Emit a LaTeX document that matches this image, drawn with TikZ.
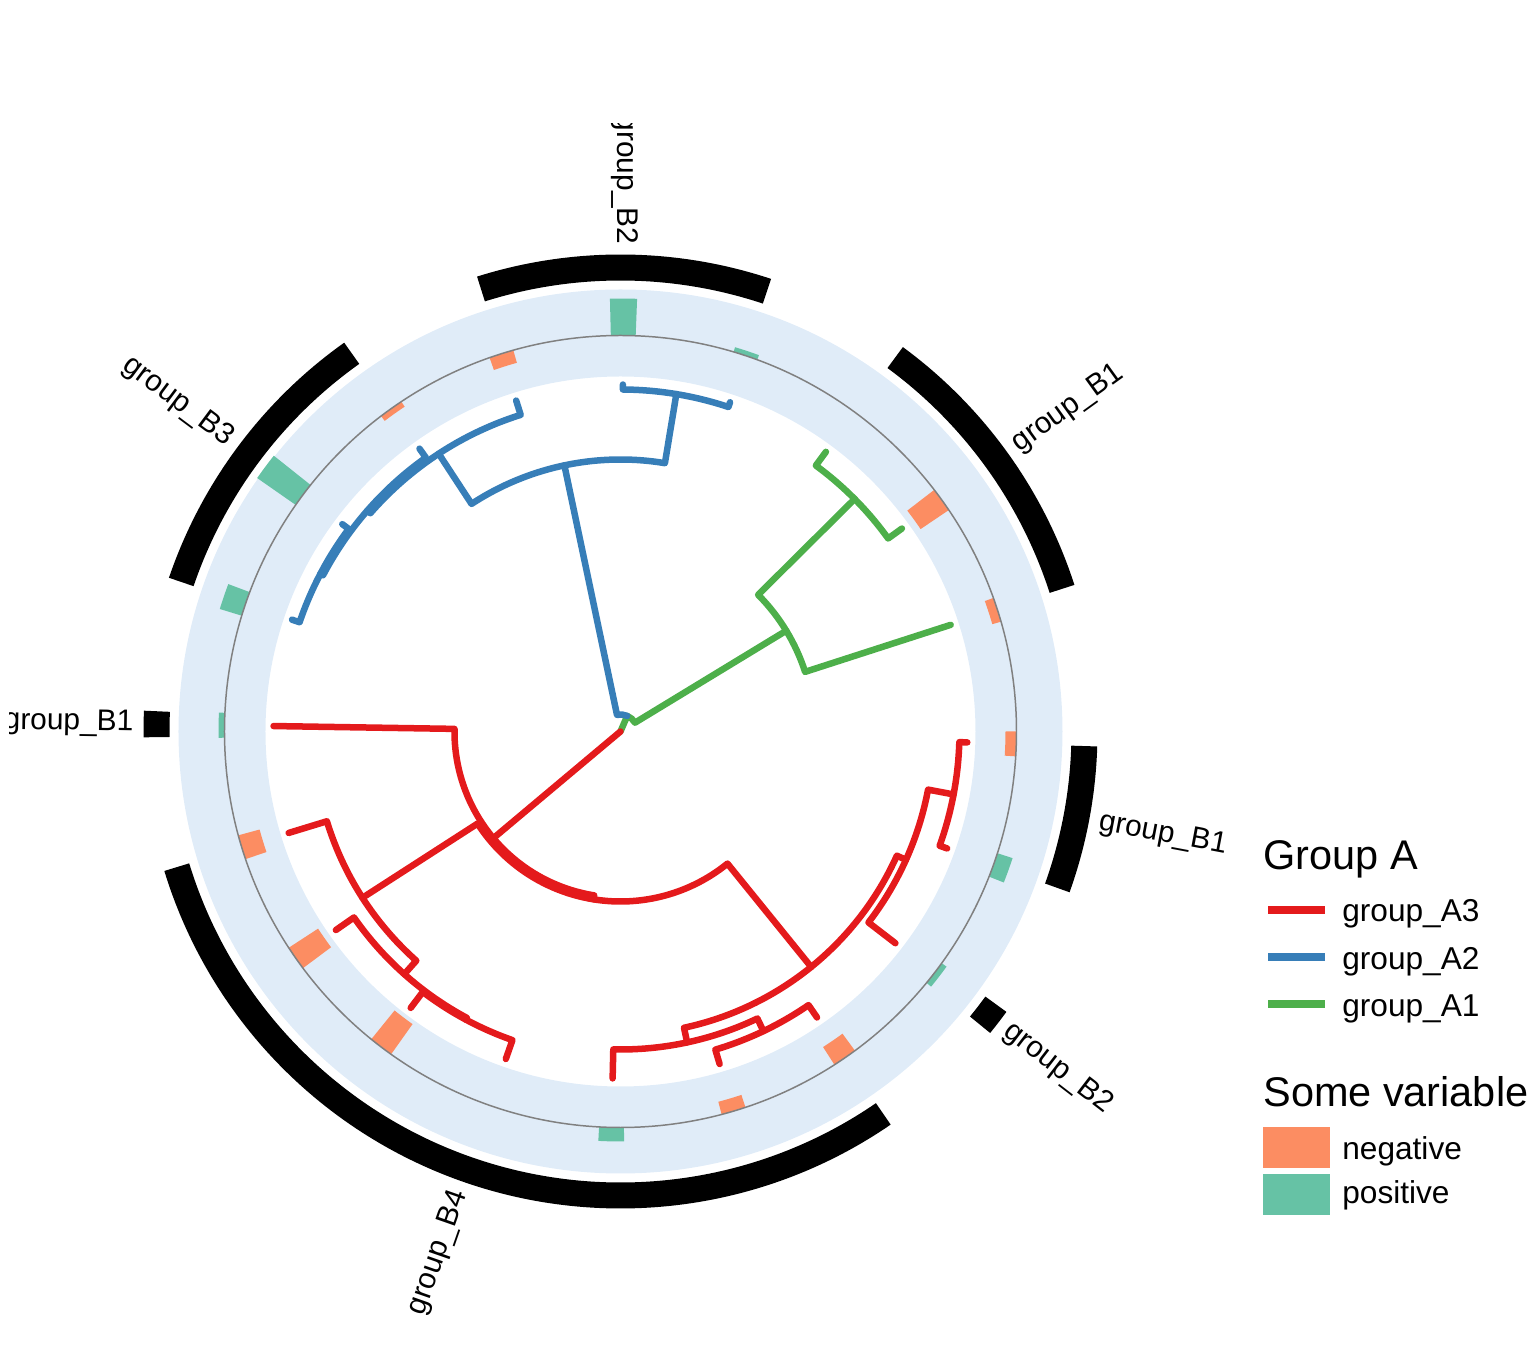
\documentclass[tikz,border=0pt]{standalone}
\usepackage{fontspec}
\setmainfont{Liberation Sans}
\usepackage{tikz}
\definecolor{grpAthree}{HTML}{E41A1C}
\definecolor{grpAtwo}{HTML}{377EB8}
\definecolor{grpAone}{HTML}{4DAF4A}
\definecolor{varneg}{HTML}{FC8D62}
\definecolor{varpos}{HTML}{66C2A5}
\definecolor{ringblue}{HTML}{E0ECF8}

\begin{document}
\begin{tikzpicture}[x=0.02cm,y=0.02cm]
\tikzstyle{ga3}=[draw=grpAthree,line width=3.7pt,line cap=round,line join=round]
\tikzstyle{ga2}=[draw=grpAtwo,line width=3.7pt,line cap=round,line join=round]
\tikzstyle{ga1}=[draw=grpAone,line width=3.7pt,line cap=round,line join=round]
\tikzstyle{negtile}=[fill=varneg]
\tikzstyle{postile}=[fill=varpos]
\tikzstyle{strip}=[fill=black]
\tikzstyle{glabel}=[font=\fontsize{17}{20}\selectfont,inner sep=0pt]
\tikzstyle{legitem}=[font=\fontsize{18}{21}\selectfont,inner sep=0pt,anchor=base west]
\tikzstyle{legtitle}=[font=\fontsize{23.6}{28}\selectfont,inner sep=0pt,anchor=base west]
\useasboundingbox (-620.5,-626.5) rectangle (914.5,731.5);
% ring
\fill[ringblue,even odd rule] (0,0) circle[radius=442] (0,0) circle[radius=355];
% some variable
\fill[negtile] (16.1:387) arc (16.1:19.7:387) -- (19.7:396) arc (19.7:16.1:396) -- cycle;
\fill[negtile] (34.0:362) arc (34.0:37.6:362) -- (37.6:396) arc (37.6:34.0:396) -- cycle;
\fill[postile] (69.8:396) arc (69.8:73.4:396) -- (73.4:401) arc (73.4:69.8:401) -- cycle;
\fill[postile] (87.8:396) arc (87.8:91.4:396) -- (91.4:433) arc (91.4:87.8:433) -- cycle;
\fill[negtile] (105.7:383) arc (105.7:109.3:383) -- (109.3:396) arc (109.3:105.7:396) -- cycle;
\fill[negtile] (123.6:390) arc (123.6:127.2:390) -- (127.2:396) arc (127.2:123.6:396) -- cycle;
\fill[postile] (141.5:396) arc (141.5:145.1:396) -- (145.1:443) arc (145.1:141.5:443) -- cycle;
\fill[postile] (159.4:396) arc (159.4:163.0:396) -- (163.0:419) arc (163.0:159.4:419) -- cycle;
\fill[postile] (177.3:396) arc (177.3:180.9:396) -- (180.9:402) arc (180.9:177.3:402) -- cycle;
\fill[negtile] (195.2:374) arc (195.2:198.8:374) -- (198.8:396) arc (198.8:195.2:396) -- cycle;
\fill[negtile] (213.1:361) arc (213.1:216.7:361) -- (216.7:396) arc (216.7:213.1:396) -- cycle;
\fill[negtile] (231.0:359) arc (231.0:234.6:359) -- (234.6:396) arc (234.6:231.0:396) -- cycle;
\fill[postile] (266.9:396) arc (266.9:270.5:396) -- (270.5:410) arc (270.5:266.9:410) -- cycle;
\fill[negtile] (284.8:383) arc (284.8:288.4:383) -- (288.4:396) arc (288.4:284.8:396) -- cycle;
\fill[negtile] (302.7:375) arc (302.7:306.3:375) -- (306.3:396) arc (306.3:302.7:396) -- cycle;
\fill[postile] (320.6:396) arc (320.6:324.2:396) -- (324.2:402) arc (324.2:320.6:402) -- cycle;
\fill[postile] (338.5:396) arc (338.5:342.1:396) -- (342.1:412) arc (342.1:338.5:412) -- cycle;
\fill[negtile] (356.4:385) arc (356.4:360.0:385) -- (360.0:396) arc (360.0:356.4:396) -- cycle;
\draw[gray,line width=0.85pt] (0,0) circle[radius=396];
% group B strips
\fill[strip] (71.6:451) arc (71.6:107.5:451) -- (107.5:477) arc (107.5:71.6:477) -- cycle;
\fill[strip] (17.9:451) arc (17.9:53.7:451) -- (53.7:477) arc (53.7:17.9:477) -- cycle;
\fill[strip] (340.3:451) arc (340.3:358.2:451) -- (358.2:477) arc (358.2:340.3:477) -- cycle;
\fill[strip] (320.8:451) arc (320.8:324.0:451) -- (324.0:477) arc (324.0:320.8:477) -- cycle;
\fill[strip] (197.0:451) arc (197.0:304.5:451) -- (304.5:477) arc (304.5:197.0:477) -- cycle;
\fill[strip] (125.4:451) arc (125.4:161.2:451) -- (161.2:477) arc (161.2:125.4:477) -- cycle;
\fill[strip] (177.5:451) arc (177.5:180.7:451) -- (180.7:477) arc (180.7:177.5:477) -- cycle;
% tree, group_A1
\draw[ga1] (0,0) -- (66.6:17) arc (66.6:31.3:17) -- (31.3:194);
\draw[ga1] (17.9:347) -- (17.9:194) arc (17.9:44.8:194) -- (44.8:330);
\draw[ga1] (35.8:347) -- (35.8:330) arc (35.8:53.7:330) -- (53.7:347);
% tree, group_A2
\draw[ga2] (66.6:17) arc (66.6:101.9:17) -- (101.9:272);
\draw[ga2] (80.6:342) -- (80.6:272) arc (80.6:123.2:272) -- (123.2:332);
\draw[ga2] (71.6:347) -- (71.6:342) arc (71.6:89.6:342) -- (89.6:347);
\draw[ga2] (107.5:347) -- (107.5:332) arc (107.5:138.9:332) -- (138.9:336);
\draw[ga2] (125.4:347) -- (125.4:336) arc (125.4:152.3:336) -- (152.3:339);
\draw[ga2] (143.3:347) -- (143.3:339) arc (143.3:161.2:339) -- (161.2:347);
% tree, group_A3
\draw[ga3] (0,0) -- (220:166);
\draw[ga3] (179.1:347) -- (179.1:166) arc (179.1:260.9:166) -- (260.9:170);
\draw[ga3] (212.8:307) -- (212.8:170) arc (212.8:309.0:170) -- (309.0:303);
\draw[ga3] (197.0:347) -- (197.0:307) arc (197.0:228.3:307) -- (228.3:325);
\draw[ga3] (214.9:347) -- (214.9:325) arc (214.9:241.8:325) -- (241.8:327);
\draw[ga3] (232.8:347) -- (232.8:327) arc (232.8:250.7:327) -- (250.7:347);
\draw[ga3] (282.1:318) -- (282.1:303) arc (282.1:335.8:303) -- (335.8:313);
\draw[ga3] (268.7:347) -- (268.7:318) arc (268.7:295.5:318) -- (295.5:332);
\draw[ga3] (286.6:347) -- (286.6:332) arc (286.6:304.5:332) -- (304.5:347);
\draw[ga3] (322.4:347) -- (322.4:313) arc (322.4:349.3:313) -- (349.3:339);
\draw[ga3] (340.3:347) -- (340.3:339) arc (340.3:358.2:339) -- (358.2:347);
% group B labels
\begin{scope}
\clip (-610.5,-626.5) rectangle (914.5,607.5);
\node[glabel,rotate=-90] (lbBtwoTop) at (89.55:552) {group\_B2};
\node[glabel,rotate=35.8] (lbBoneUp) at (35.8:552) {group\_B1};
\node[glabel,rotate=-10.75] (lbBoneRt) at (349.25:552) {group\_B1};
\node[glabel,rotate=-37.6] (lbBtwoLow) at (322.4:552) {group\_B2};
\node[glabel,rotate=70.75] (lbBfour) at (250.75:552) {group\_B4};
\node[glabel,rotate=-36.7] (lbBthree) at (143.3:552) {group\_B3};
\node[glabel,rotate=-0.9] (lbBoneLt) at (179.1:552) {group\_B1};
\end{scope}
% legend
\node[legtitle] (ttlA) at (642.5,-138.5) {Group A};
\draw[grpAthree,line width=4.2pt] (647.5,-178.5) -- (704.5,-178.5);
\draw[grpAtwo,line width=4.2pt] (647.5,-225.5) -- (704.5,-225.5);
\draw[grpAone,line width=4.2pt] (647.5,-272.5) -- (704.5,-272.5);
\node[legitem] (txtAthree) at (721.5,-190.5) {group\_A3};
\node[legitem] (txtAtwo) at (721.5,-238.5) {group\_A2};
\node[legitem] (txtAone) at (721.5,-285.5) {group\_A1};
\node[legtitle] (ttlVar) at (642.5,-375.5) {Some variable};
\fill[varneg] (642.5,-395.5) rectangle (709.5,-436.5);
\fill[varpos] (642.5,-442.5) rectangle (709.5,-483.5);
\node[legitem] (txtNeg) at (721.5,-428.5) {negative};
\node[legitem] (txtPos) at (721.5,-471.5) {positive};
\end{tikzpicture}
\end{document}
